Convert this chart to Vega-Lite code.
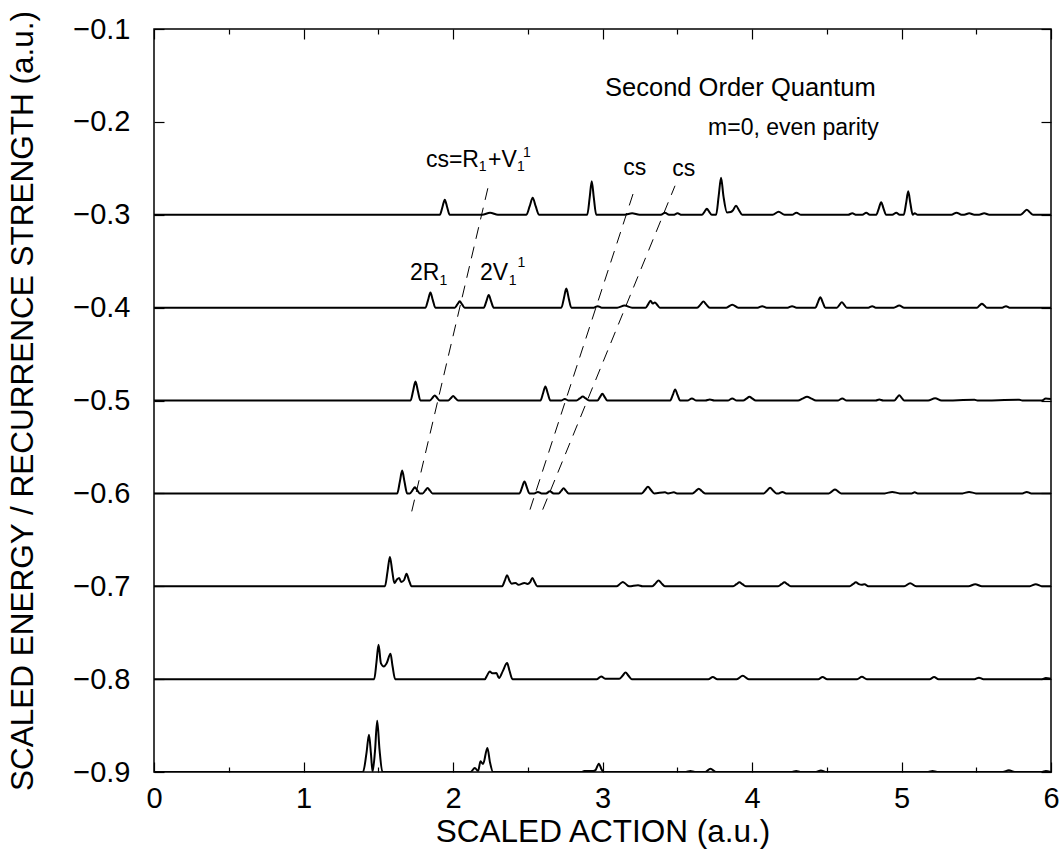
{
"$schema": "https://vega.github.io/schema/vega-lite/v6.json",
"width": 897, "height": 743,
"autosize": "none",
"padding": {"left": 154, "top": 29, "right": 10, "bottom": 87},
"background": "white",
"config": {"view": {"stroke": "black", "strokeWidth": 1.5}, "font": "Liberation Sans",
 "axis": {"labelFont": "Liberation Sans", "titleFont": "Liberation Sans", "labelColor": "black", "titleColor": "black", "tickColor": "black", "titleFontWeight": "normal", "grid": false, "domain": false, "tickWidth": 1.2}},
"datasets": {
"traces": [
{"e":"a","x":0,"y":-0.3},
{"e":"a","x":1.912,"y":-0.3},{"e":"a","x":1.929,"y":-0.2919},{"e":"a","x":1.945,"y":-0.2838},{"e":"a","x":1.961,"y":-0.2919},{"e":"a","x":1.978,"y":-0.3},
{"e":"a","x":2.195,"y":-0.3},{"e":"a","x":2.248,"y":-0.2978},{"e":"a","x":2.301,"y":-0.3},
{"e":"a","x":2.491,"y":-0.3},{"e":"a","x":2.513,"y":-0.2908},{"e":"a","x":2.533,"y":-0.2817},{"e":"a","x":2.553,"y":-0.2908},{"e":"a","x":2.575,"y":-0.3},
{"e":"a","x":2.898,"y":-0.3},{"e":"a","x":2.914,"y":-0.2819},{"e":"a","x":2.928,"y":-0.2639},{"e":"a","x":2.942,"y":-0.2819},{"e":"a","x":2.958,"y":-0.3},
{"e":"a","x":3.148,"y":-0.3},{"e":"a","x":3.198,"y":-0.2984},{"e":"a","x":3.248,"y":-0.3},
{"e":"a","x":3.391,"y":-0.3},{"e":"a","x":3.418,"y":-0.2978},{"e":"a","x":3.445,"y":-0.3},
{"e":"a","x":3.475,"y":-0.3},{"e":"a","x":3.502,"y":-0.2984},{"e":"a","x":3.529,"y":-0.3},
{"e":"a","x":3.665,"y":-0.3},{"e":"a","x":3.682,"y":-0.2968},{"e":"a","x":3.698,"y":-0.2935},{"e":"a","x":3.714,"y":-0.2968},{"e":"a","x":3.731,"y":-0.3},
{"e":"a","x":3.76,"y":-0.3},{"e":"a","x":3.777,"y":-0.28},{"e":"a","x":3.793,"y":-0.2601},{"e":"a","x":3.809,"y":-0.28},{"e":"a","x":3.833,"y":-0.2975},
{"e":"a","x":3.858,"y":-0.297},{"e":"a","x":3.873,"y":-0.2951},{"e":"a","x":3.893,"y":-0.2903},{"e":"a","x":3.913,"y":-0.2951},{"e":"a","x":3.935,"y":-0.3},
{"e":"a","x":4.138,"y":-0.3},{"e":"a","x":4.178,"y":-0.2968},{"e":"a","x":4.218,"y":-0.3},
{"e":"a","x":4.268,"y":-0.3},{"e":"a","x":4.297,"y":-0.2978},{"e":"a","x":4.328,"y":-0.3},
{"e":"a","x":4.643,"y":-0.3},{"e":"a","x":4.671,"y":-0.2984},{"e":"a","x":4.698,"y":-0.3},
{"e":"a","x":4.738,"y":-0.3},{"e":"a","x":4.764,"y":-0.2978},{"e":"a","x":4.788,"y":-0.3},
{"e":"a","x":4.831,"y":-0.3},{"e":"a","x":4.848,"y":-0.2933},{"e":"a","x":4.864,"y":-0.2865},{"e":"a","x":4.88,"y":-0.2933},{"e":"a","x":4.897,"y":-0.3},
{"e":"a","x":4.938,"y":-0.3},{"e":"a","x":4.965,"y":-0.2978},{"e":"a","x":4.988,"y":-0.3},
{"e":"a","x":5.015,"y":-0.3},{"e":"a","x":5.031,"y":-0.2873},{"e":"a","x":5.045,"y":-0.2747},{"e":"a","x":5.059,"y":-0.2873},{"e":"a","x":5.075,"y":-0.3},
{"e":"a","x":5.088,"y":-0.2985},{"e":"a","x":5.108,"y":-0.3},
{"e":"a","x":5.334,"y":-0.3},{"e":"a","x":5.368,"y":-0.2978},{"e":"a","x":5.402,"y":-0.3},
{"e":"a","x":5.419,"y":-0.3},{"e":"a","x":5.453,"y":-0.2984},{"e":"a","x":5.487,"y":-0.3},
{"e":"a","x":5.519,"y":-0.3},{"e":"a","x":5.553,"y":-0.2984},{"e":"a","x":5.587,"y":-0.3},
{"e":"a","x":5.796,"y":-0.3},{"e":"a","x":5.818,"y":-0.2973},{"e":"a","x":5.838,"y":-0.2946},{"e":"a","x":5.858,"y":-0.2973},{"e":"a","x":5.88,"y":-0.3},
{"e":"a","x":6,"y":-0.3},

{"e":"b","x":0,"y":-0.4},
{"e":"b","x":1.816,"y":-0.4},{"e":"b","x":1.833,"y":-0.3919},{"e":"b","x":1.849,"y":-0.3838},{"e":"b","x":1.865,"y":-0.3919},{"e":"b","x":1.882,"y":-0.4},
{"e":"b","x":2.012,"y":-0.4},{"e":"b","x":2.029,"y":-0.3966},{"e":"b","x":2.045,"y":-0.3932},{"e":"b","x":2.061,"y":-0.3966},{"e":"b","x":2.078,"y":-0.4},
{"e":"b","x":2.206,"y":-0.4},{"e":"b","x":2.223,"y":-0.3933},{"e":"b","x":2.239,"y":-0.3865},{"e":"b","x":2.255,"y":-0.3933},{"e":"b","x":2.272,"y":-0.4},
{"e":"b","x":2.725,"y":-0.4},{"e":"b","x":2.742,"y":-0.3898},{"e":"b","x":2.758,"y":-0.3795},{"e":"b","x":2.774,"y":-0.3898},{"e":"b","x":2.791,"y":-0.4},
{"e":"b","x":2.941,"y":-0.4},{"e":"b","x":2.968,"y":-0.3984},{"e":"b","x":2.995,"y":-0.4},
{"e":"b","x":3.098,"y":-0.4},{"e":"b","x":3.148,"y":-0.3978},{"e":"b","x":3.198,"y":-0.4},
{"e":"b","x":3.288,"y":-0.4},{"e":"b","x":3.306,"y":-0.3962},{"e":"b","x":3.321,"y":-0.3925},{"e":"b","x":3.335,"y":-0.3955},{"e":"b","x":3.35,"y":-0.3946},{"e":"b","x":3.368,"y":-0.3975},{"e":"b","x":3.383,"y":-0.4},
{"e":"b","x":3.633,"y":-0.4},{"e":"b","x":3.655,"y":-0.3968},{"e":"b","x":3.675,"y":-0.3935},{"e":"b","x":3.695,"y":-0.3968},{"e":"b","x":3.717,"y":-0.4},
{"e":"b","x":3.828,"y":-0.4},{"e":"b","x":3.868,"y":-0.3968},{"e":"b","x":3.908,"y":-0.4},
{"e":"b","x":4.038,"y":-0.4},{"e":"b","x":4.068,"y":-0.3984},{"e":"b","x":4.098,"y":-0.4},
{"e":"b","x":4.238,"y":-0.4},{"e":"b","x":4.268,"y":-0.3984},{"e":"b","x":4.298,"y":-0.4},
{"e":"b","x":4.424,"y":-0.4},{"e":"b","x":4.441,"y":-0.3943},{"e":"b","x":4.457,"y":-0.3887},{"e":"b","x":4.473,"y":-0.3943},{"e":"b","x":4.49,"y":-0.4},
{"e":"b","x":4.568,"y":-0.4},{"e":"b","x":4.585,"y":-0.397},{"e":"b","x":4.601,"y":-0.3941},{"e":"b","x":4.617,"y":-0.397},{"e":"b","x":4.634,"y":-0.4},
{"e":"b","x":4.778,"y":-0.4},{"e":"b","x":4.804,"y":-0.3984},{"e":"b","x":4.828,"y":-0.4},
{"e":"b","x":4.948,"y":-0.4},{"e":"b","x":4.985,"y":-0.3978},{"e":"b","x":5.018,"y":-0.4},
{"e":"b","x":5.505,"y":-0.4},{"e":"b","x":5.522,"y":-0.3978},{"e":"b","x":5.538,"y":-0.3957},{"e":"b","x":5.554,"y":-0.3978},{"e":"b","x":5.571,"y":-0.4},
{"e":"b","x":5.673,"y":-0.4},{"e":"b","x":5.699,"y":-0.3984},{"e":"b","x":5.723,"y":-0.4},
{"e":"b","x":6,"y":-0.4},

{"e":"c","x":0,"y":-0.5},
{"e":"c","x":1.716,"y":-0.5},{"e":"c","x":1.733,"y":-0.4898},{"e":"c","x":1.749,"y":-0.4795},{"e":"c","x":1.765,"y":-0.4898},{"e":"c","x":1.782,"y":-0.5},
{"e":"c","x":1.845,"y":-0.5},{"e":"c","x":1.862,"y":-0.4973},{"e":"c","x":1.878,"y":-0.4946},{"e":"c","x":1.894,"y":-0.4973},{"e":"c","x":1.911,"y":-0.5},
{"e":"c","x":1.968,"y":-0.5},{"e":"c","x":1.985,"y":-0.4976},{"e":"c","x":2.001,"y":-0.4951},{"e":"c","x":2.017,"y":-0.4976},{"e":"c","x":2.034,"y":-0.5},
{"e":"c","x":2.585,"y":-0.5},{"e":"c","x":2.602,"y":-0.4925},{"e":"c","x":2.618,"y":-0.4849},{"e":"c","x":2.634,"y":-0.4925},{"e":"c","x":2.651,"y":-0.5},
{"e":"c","x":2.723,"y":-0.5},{"e":"c","x":2.748,"y":-0.4984},{"e":"c","x":2.773,"y":-0.5},
{"e":"c","x":2.826,"y":-0.5},{"e":"c","x":2.848,"y":-0.4978},{"e":"c","x":2.868,"y":-0.4957},{"e":"c","x":2.888,"y":-0.4978},{"e":"c","x":2.91,"y":-0.5},
{"e":"c","x":2.966,"y":-0.5},{"e":"c","x":2.983,"y":-0.4964},{"e":"c","x":2.999,"y":-0.4928},{"e":"c","x":3.015,"y":-0.4964},{"e":"c","x":3.032,"y":-0.5},
{"e":"c","x":3.453,"y":-0.5},{"e":"c","x":3.47,"y":-0.4941},{"e":"c","x":3.486,"y":-0.4881},{"e":"c","x":3.502,"y":-0.4941},{"e":"c","x":3.519,"y":-0.5},
{"e":"c","x":3.568,"y":-0.5},{"e":"c","x":3.598,"y":-0.4978},{"e":"c","x":3.628,"y":-0.5},
{"e":"c","x":3.688,"y":-0.5},{"e":"c","x":3.718,"y":-0.4989},{"e":"c","x":3.748,"y":-0.5},
{"e":"c","x":3.838,"y":-0.5},{"e":"c","x":3.868,"y":-0.4978},{"e":"c","x":3.898,"y":-0.5},
{"e":"c","x":3.941,"y":-0.5},{"e":"c","x":3.963,"y":-0.498},{"e":"c","x":3.983,"y":-0.496},{"e":"c","x":4.003,"y":-0.498},{"e":"c","x":4.025,"y":-0.5},
{"e":"c","x":4.308,"y":-0.5},{"e":"c","x":4.338,"y":-0.498},{"e":"c","x":4.368,"y":-0.496},{"e":"c","x":4.398,"y":-0.498},{"e":"c","x":4.428,"y":-0.5},
{"e":"c","x":4.573,"y":-0.5},{"e":"c","x":4.604,"y":-0.4978},{"e":"c","x":4.633,"y":-0.5},
{"e":"c","x":4.828,"y":-0.5},{"e":"c","x":4.851,"y":-0.4989},{"e":"c","x":4.878,"y":-0.5},
{"e":"c","x":4.952,"y":-0.5},{"e":"c","x":4.969,"y":-0.4971},{"e":"c","x":4.985,"y":-0.4943},{"e":"c","x":5.001,"y":-0.4971},{"e":"c","x":5.018,"y":-0.5},
{"e":"c","x":5.178,"y":-0.5},{"e":"c","x":5.225,"y":-0.4975},{"e":"c","x":5.268,"y":-0.5},
{"e":"c","x":5.488,"y":-0.4992},{"e":"c","x":5.508,"y":-0.5},
{"e":"c","x":5.788,"y":-0.4992},{"e":"c","x":5.808,"y":-0.5},
{"e":"c","x":5.94,"y":-0.5},{"e":"c","x":5.965,"y":-0.4978},{"e":"c","x":6,"y":-0.4985},

{"e":"d","x":0,"y":-0.6},
{"e":"d","x":1.627,"y":-0.6},{"e":"d","x":1.644,"y":-0.5878},{"e":"d","x":1.66,"y":-0.5755},{"e":"d","x":1.676,"y":-0.5878},{"e":"d","x":1.693,"y":-0.6},
{"e":"d","x":1.712,"y":-0.6},{"e":"d","x":1.729,"y":-0.5968},{"e":"d","x":1.745,"y":-0.5935},{"e":"d","x":1.761,"y":-0.5968},{"e":"d","x":1.778,"y":-0.6},
{"e":"d","x":1.797,"y":-0.6},{"e":"d","x":1.814,"y":-0.5971},{"e":"d","x":1.83,"y":-0.5943},{"e":"d","x":1.846,"y":-0.5971},{"e":"d","x":1.863,"y":-0.6},
{"e":"d","x":2.445,"y":-0.6},{"e":"d","x":2.462,"y":-0.5935},{"e":"d","x":2.478,"y":-0.5871},{"e":"d","x":2.494,"y":-0.5935},{"e":"d","x":2.511,"y":-0.6},
{"e":"d","x":2.543,"y":-0.6},{"e":"d","x":2.568,"y":-0.5984},{"e":"d","x":2.593,"y":-0.6},
{"e":"d","x":2.623,"y":-0.6},{"e":"d","x":2.648,"y":-0.5978},{"e":"d","x":2.673,"y":-0.6},
{"e":"d","x":2.707,"y":-0.6},{"e":"d","x":2.724,"y":-0.5973},{"e":"d","x":2.74,"y":-0.5946},{"e":"d","x":2.756,"y":-0.5973},{"e":"d","x":2.773,"y":-0.6},
{"e":"d","x":3.262,"y":-0.6},{"e":"d","x":3.284,"y":-0.5964},{"e":"d","x":3.304,"y":-0.5928},{"e":"d","x":3.324,"y":-0.5964},{"e":"d","x":3.346,"y":-0.6},
{"e":"d","x":3.418,"y":-0.5989},{"e":"d","x":3.438,"y":-0.6},{"e":"d","x":3.478,"y":-0.5989},{"e":"d","x":3.498,"y":-0.6},
{"e":"d","x":3.602,"y":-0.6},{"e":"d","x":3.624,"y":-0.5975},{"e":"d","x":3.644,"y":-0.5949},{"e":"d","x":3.664,"y":-0.5975},{"e":"d","x":3.686,"y":-0.6},
{"e":"d","x":4.079,"y":-0.6},{"e":"d","x":4.101,"y":-0.5969},{"e":"d","x":4.121,"y":-0.5939},{"e":"d","x":4.141,"y":-0.5969},{"e":"d","x":4.163,"y":-0.6},
{"e":"d","x":4.178,"y":-0.6},{"e":"d","x":4.203,"y":-0.5984},{"e":"d","x":4.228,"y":-0.6},
{"e":"d","x":4.513,"y":-0.6},{"e":"d","x":4.535,"y":-0.5978},{"e":"d","x":4.555,"y":-0.5957},{"e":"d","x":4.575,"y":-0.5978},{"e":"d","x":4.597,"y":-0.6},
{"e":"d","x":4.888,"y":-0.6},{"e":"d","x":4.938,"y":-0.5984},{"e":"d","x":4.988,"y":-0.6},
{"e":"d","x":5.068,"y":-0.6},{"e":"d","x":5.088,"y":-0.5989},{"e":"d","x":5.108,"y":-0.6},
{"e":"d","x":5.408,"y":-0.6},{"e":"d","x":5.452,"y":-0.5984},{"e":"d","x":5.498,"y":-0.6},
{"e":"d","x":5.808,"y":-0.6},{"e":"d","x":5.838,"y":-0.5984},{"e":"d","x":5.868,"y":-0.6},
{"e":"d","x":6,"y":-0.6},

{"e":"e","x":0,"y":-0.7},
{"e":"e","x":1.545,"y":-0.7},{"e":"e","x":1.562,"y":-0.6842},{"e":"e","x":1.578,"y":-0.6684},{"e":"e","x":1.594,"y":-0.6842},{"e":"e","x":1.608,"y":-0.6965},
{"e":"e","x":1.626,"y":-0.6925},{"e":"e","x":1.64,"y":-0.691},{"e":"e","x":1.653,"y":-0.6955},
{"e":"e","x":1.673,"y":-0.6933},{"e":"e","x":1.689,"y":-0.6866},{"e":"e","x":1.705,"y":-0.6933},{"e":"e","x":1.723,"y":-0.7},
{"e":"e","x":2.329,"y":-0.7},{"e":"e","x":2.346,"y":-0.6941},{"e":"e","x":2.362,"y":-0.6881},{"e":"e","x":2.378,"y":-0.6941},{"e":"e","x":2.393,"y":-0.6972},
{"e":"e","x":2.418,"y":-0.6964},{"e":"e","x":2.438,"y":-0.6985},{"e":"e","x":2.478,"y":-0.6964},{"e":"e","x":2.498,"y":-0.6975},
{"e":"e","x":2.516,"y":-0.6955},{"e":"e","x":2.531,"y":-0.691},{"e":"e","x":2.546,"y":-0.6955},{"e":"e","x":2.563,"y":-0.7},
{"e":"e","x":3.094,"y":-0.7},{"e":"e","x":3.116,"y":-0.6976},{"e":"e","x":3.136,"y":-0.6953},{"e":"e","x":3.156,"y":-0.6976},{"e":"e","x":3.178,"y":-0.7},
{"e":"e","x":3.238,"y":-0.6989},{"e":"e","x":3.268,"y":-0.7},
{"e":"e","x":3.333,"y":-0.7},{"e":"e","x":3.355,"y":-0.6969},{"e":"e","x":3.375,"y":-0.6939},{"e":"e","x":3.395,"y":-0.6969},{"e":"e","x":3.417,"y":-0.7},
{"e":"e","x":3.874,"y":-0.7},{"e":"e","x":3.896,"y":-0.6978},{"e":"e","x":3.916,"y":-0.6957},{"e":"e","x":3.936,"y":-0.6978},{"e":"e","x":3.958,"y":-0.7},
{"e":"e","x":4.175,"y":-0.7},{"e":"e","x":4.197,"y":-0.6978},{"e":"e","x":4.217,"y":-0.6957},{"e":"e","x":4.237,"y":-0.6978},{"e":"e","x":4.259,"y":-0.7},
{"e":"e","x":4.653,"y":-0.7},{"e":"e","x":4.675,"y":-0.6978},{"e":"e","x":4.695,"y":-0.6957},{"e":"e","x":4.715,"y":-0.6978},{"e":"e","x":4.733,"y":-0.6985},
{"e":"e","x":4.753,"y":-0.6978},{"e":"e","x":4.778,"y":-0.7},
{"e":"e","x":5.018,"y":-0.7},{"e":"e","x":5.058,"y":-0.6968},{"e":"e","x":5.098,"y":-0.7},
{"e":"e","x":5.448,"y":-0.7},{"e":"e","x":5.493,"y":-0.6978},{"e":"e","x":5.538,"y":-0.7},
{"e":"e","x":5.858,"y":-0.7},{"e":"e","x":5.898,"y":-0.6978},{"e":"e","x":5.938,"y":-0.7},
{"e":"e","x":6,"y":-0.7},

{"e":"f","x":0,"y":-0.8},
{"e":"f","x":1.473,"y":-0.8},{"e":"f","x":1.488,"y":-0.782},{"e":"f","x":1.502,"y":-0.763},{"e":"f","x":1.518,"y":-0.783},{"e":"f","x":1.538,"y":-0.7863},{"e":"f","x":1.556,"y":-0.783},{"e":"f","x":1.582,"y":-0.7727},{"e":"f","x":1.596,"y":-0.7864},{"e":"f","x":1.613,"y":-0.8},
{"e":"f","x":2.213,"y":-0.8},{"e":"f","x":2.228,"y":-0.796},{"e":"f","x":2.246,"y":-0.7917},{"e":"f","x":2.263,"y":-0.7938},{"e":"f","x":2.29,"y":-0.7935},{"e":"f","x":2.308,"y":-0.7989},{"e":"f","x":2.333,"y":-0.7914},{"e":"f","x":2.362,"y":-0.7827},{"e":"f","x":2.378,"y":-0.791},{"e":"f","x":2.398,"y":-0.8},
{"e":"f","x":2.963,"y":-0.8},{"e":"f","x":2.991,"y":-0.7971},{"e":"f","x":3.018,"y":-0.7995},
{"e":"f","x":3.112,"y":-0.7995},{"e":"f","x":3.134,"y":-0.7964},{"e":"f","x":3.154,"y":-0.7928},{"e":"f","x":3.174,"y":-0.7964},{"e":"f","x":3.196,"y":-0.8},
{"e":"f","x":3.708,"y":-0.8},{"e":"f","x":3.738,"y":-0.7978},{"e":"f","x":3.768,"y":-0.8},
{"e":"f","x":3.898,"y":-0.8},{"e":"f","x":3.938,"y":-0.7964},{"e":"f","x":3.978,"y":-0.8},
{"e":"f","x":4.443,"y":-0.8},{"e":"f","x":4.472,"y":-0.7978},{"e":"f","x":4.503,"y":-0.8},
{"e":"f","x":4.703,"y":-0.8},{"e":"f","x":4.735,"y":-0.7975},{"e":"f","x":4.768,"y":-0.8},
{"e":"f","x":5.188,"y":-0.8},{"e":"f","x":5.218,"y":-0.7978},{"e":"f","x":5.248,"y":-0.8},
{"e":"f","x":5.488,"y":-0.8},{"e":"f","x":5.518,"y":-0.7984},{"e":"f","x":5.548,"y":-0.8},
{"e":"f","x":5.94,"y":-0.8},{"e":"f","x":5.965,"y":-0.7989},{"e":"f","x":6,"y":-0.7995},

{"e":"g","x":0,"y":-0.9},
{"e":"g","x":1.398,"y":-0.9},{"e":"g","x":1.421,"y":-0.88},{"e":"g","x":1.438,"y":-0.8598},{"e":"g","x":1.451,"y":-0.88},{"e":"g","x":1.462,"y":-0.8995},{"e":"g","x":1.478,"y":-0.878},{"e":"g","x":1.493,"y":-0.8447},{"e":"g","x":1.508,"y":-0.875},{"e":"g","x":1.528,"y":-0.9},
{"e":"g","x":2.117,"y":-0.9},{"e":"g","x":2.146,"y":-0.8957},{"e":"g","x":2.168,"y":-0.8989},{"e":"g","x":2.184,"y":-0.8885},{"e":"g","x":2.201,"y":-0.8914},{"e":"g","x":2.23,"y":-0.8741},{"e":"g","x":2.248,"y":-0.89},{"e":"g","x":2.268,"y":-0.9},
{"e":"g","x":2.858,"y":-0.9},{"e":"g","x":2.878,"y":-0.899},{"e":"g","x":2.908,"y":-0.899},{"e":"g","x":2.938,"y":-0.899},{"e":"g","x":2.953,"y":-0.898},{"e":"g","x":2.976,"y":-0.891},{"e":"g","x":2.993,"y":-0.897},{"e":"g","x":3.008,"y":-0.9},
{"e":"g","x":3.558,"y":-0.9},{"e":"g","x":3.588,"y":-0.899},{"e":"g","x":3.618,"y":-0.9},
{"e":"g","x":3.688,"y":-0.9},{"e":"g","x":3.722,"y":-0.8964},{"e":"g","x":3.758,"y":-0.9},
{"e":"g","x":4.268,"y":-0.9},{"e":"g","x":4.295,"y":-0.8989},{"e":"g","x":4.323,"y":-0.9},
{"e":"g","x":4.428,"y":-0.9},{"e":"g","x":4.461,"y":-0.8984},{"e":"g","x":4.493,"y":-0.9},
{"e":"g","x":5.178,"y":-0.9},{"e":"g","x":5.208,"y":-0.8989},{"e":"g","x":5.238,"y":-0.9},
{"e":"g","x":5.678,"y":-0.9},{"e":"g","x":5.718,"y":-0.8982},{"e":"g","x":5.758,"y":-0.9},
{"e":"g","x":5.94,"y":-0.9},{"e":"g","x":5.965,"y":-0.8989},{"e":"g","x":6,"y":-0.9}
],
"dashes": [
{"d":"a","x":1.724,"y":-0.6194},{"d":"a","x":2.236,"y":-0.2695},
{"d":"b","x":2.515,"y":-0.6175},{"d":"b","x":3.217,"y":-0.2713},
{"d":"c","x":2.6,"y":-0.6175},{"d":"c","x":3.485,"y":-0.2688}
],
"labels": [
{"t":"cs=R","x":1.819,"y":-0.2487},
{"t":"+V","x":2.234,"y":-0.2487},
{"t":"2R","x":1.712,"y":-0.37},
{"t":"2V","x":2.181,"y":-0.37},
{"t":"cs","x":3.139,"y":-0.2569},
{"t":"cs","x":3.467,"y":-0.258}
],
"subs": [
{"t":"1","x":2.172,"y":-0.2534},
{"t":"1","x":2.428,"y":-0.2534},
{"t":"1","x":1.91,"y":-0.3753},
{"t":"1","x":2.373,"y":-0.3753}
],
"sups": [
{"t":"1","x":2.468,"y":-0.2376},
{"t":"1","x":2.432,"y":-0.356}
],
"title": [{"t":"Second Order Quantum","x":3.017,"y":-0.1717}],
"subtitle": [{"t":"m=0, even parity","x":3.706,"y":-0.2139}]
},
"layer": [
{"data": {"name": "traces"},
 "mark": {"type": "line", "color": "black", "strokeWidth": 2, "interpolate": "monotone", "clip": true},
 "encoding": {
  "x": {"field": "x", "type": "quantitative", "scale": {"domain": [0, 6], "nice": false, "zero": false},
   "axis": {"orient": "bottom", "values": [0,0.5,1,1.5,2,2.5,3,3.5,4,4.5,5,5.5,6],
    "labelExpr": "datum.value % 1 === 0 ? format(datum.value, 'd') : ''",
    "tickSize": {"condition": {"test": "datum.value % 1 === 0", "value": -10}, "value": -5},
    "labelFontSize": 29, "labelPadding": 22, "labelFlush": false,
    "title": "SCALED ACTION (a.u.)", "titleFontSize": 31.5, "titlePadding": 3}},
  "y": {"field": "y", "type": "quantitative", "scale": {"domain": [-0.9, -0.1], "nice": false, "zero": false},
   "axis": {"orient": "left", "values": [-0.9,-0.8,-0.7,-0.6,-0.5,-0.4,-0.3,-0.2,-0.1], "format": ".1f",
    "tickSize": -10, "labelFontSize": 29, "labelPadding": 34, "labelFlush": false,
    "title": "SCALED ENERGY / RECURRENCE STRENGTH (a.u.)", "titleFontSize": 31.5, "titlePadding": 33}},
  "detail": {"field": "e", "type": "nominal"}
 }},
{"data": {"name": "dashes"},
 "mark": {"type": "line", "color": "black", "strokeWidth": 1, "strokeDash": [12, 8]},
 "encoding": {
  "x": {"field": "x", "type": "quantitative",
   "axis": {"orient": "top", "values": [0,0.5,1,1.5,2,2.5,3,3.5,4,4.5,5,5.5,6], "labels": false, "title": null,
    "tickSize": {"condition": {"test": "datum.value % 1 === 0", "value": -10}, "value": -5}}},
  "y": {"field": "y", "type": "quantitative",
   "axis": {"orient": "right", "values": [-0.9,-0.8,-0.7,-0.6,-0.5,-0.4,-0.3,-0.2,-0.1], "labels": false, "title": null, "tickSize": -10}},
  "detail": {"field": "d", "type": "nominal"}
 }},
{"data": {"name": "labels"},
 "mark": {"type": "text", "align": "left", "baseline": "alphabetic", "fontSize": 23, "color": "black"},
 "encoding": {"x": {"field": "x", "type": "quantitative", "axis": null}, "y": {"field": "y", "type": "quantitative", "axis": null}, "text": {"field": "t"}}},
{"data": {"name": "subs"},
 "mark": {"type": "text", "align": "left", "baseline": "alphabetic", "fontSize": 14, "color": "black"},
 "encoding": {"x": {"field": "x", "type": "quantitative", "axis": null}, "y": {"field": "y", "type": "quantitative", "axis": null}, "text": {"field": "t"}}},
{"data": {"name": "sups"},
 "mark": {"type": "text", "align": "left", "baseline": "alphabetic", "fontSize": 14, "color": "black"},
 "encoding": {"x": {"field": "x", "type": "quantitative", "axis": null}, "y": {"field": "y", "type": "quantitative", "axis": null}, "text": {"field": "t"}}},
{"data": {"name": "title"},
 "mark": {"type": "text", "align": "left", "baseline": "alphabetic", "fontSize": 25.5, "color": "black"},
 "encoding": {"x": {"field": "x", "type": "quantitative", "axis": null}, "y": {"field": "y", "type": "quantitative", "axis": null}, "text": {"field": "t"}}},
{"data": {"name": "subtitle"},
 "mark": {"type": "text", "align": "left", "baseline": "alphabetic", "fontSize": 23, "color": "black"},
 "encoding": {"x": {"field": "x", "type": "quantitative", "axis": null}, "y": {"field": "y", "type": "quantitative", "axis": null}, "text": {"field": "t"}}}
],
"resolve": {"axis": {"x": "independent", "y": "independent"}}
}
